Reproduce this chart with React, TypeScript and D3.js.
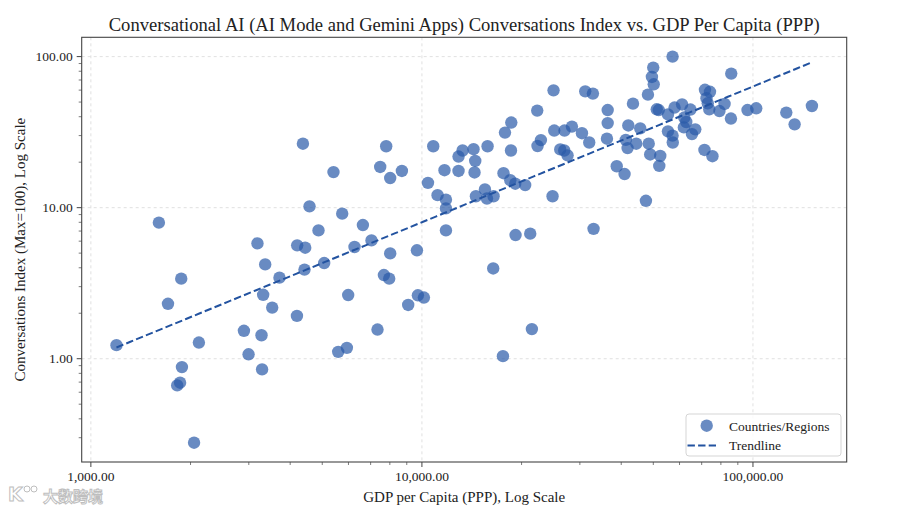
import * as d3 from "d3";

// GDP per capita (PPP) and conversations index
const gdpPerCapita = [
  1195, 1605, 1710, 1875, 2120, 1884, 1860, 1823, 2050, 2900,
  2995, 3277, 3290, 3362, 3315, 3530, 3713, 4193, 3186, 4200,
  4371, 4576, 5406, 5744, 4871, 4441, 6633, 6258, 7041, 7800,
  7482, 8020, 8700, 9660, 8020, 10820, 10430, 11150, 11820, 11820,
  11820, 11700, 12900, 13270, 14320, 14490, 12900, 14420, 15790, 14560,
  15500, 15720, 16460, 17640, 18490, 19140, 20510, 24810, 19180, 21240,
  18580, 17820, 18620, 22300, 24980, 22350, 22880, 25100, 26960, 28390,
  30440, 26170, 26910, 27540, 31140, 32850, 4419, 5068, 7677, 7965,
  5988, 9725, 10140, 9090, 7343, 5586, 5934, 16420, 21490, 17570,
  57170, 49970, 49520, 50150, 48170, 43410, 36410, 36410, 42020, 45650,
  36220, 32020, 41290, 41810, 44410, 48430, 48930, 52480, 52120, 38770,
  40940, 47500, 33000, 51220, 51940, 55370, 57970, 61080, 64750, 62010,
  62880, 61840, 66950, 65430, 55370, 57170, 57250, 71370, 75450, 71610,
  74160, 72380, 73030, 73790, 79210, 82070, 85800, 85980, 96280, 102300,
  126100, 133600, 150700,
];

const conversationsIndex = [
  1.23, 7.96, 2.31, 3.39, 1.28, 0.88, 0.694, 0.666, 0.278, 1.53,
  1.07, 1.43, 0.85, 4.21, 2.65, 2.18, 3.44, 1.92, 5.8, 5.63,
  26.5, 10.2, 17.2, 9.13, 7.07, 5.43, 7.67, 5.49, 6.07, 25.5,
  18.6, 15.7, 17.5, 5.22, 4.98, 25.5, 14.6, 12.1, 11.3, 9.89,
  7.07, 17.7, 21.8, 23.9, 24.4, 20.4, 17.5, 17.1, 25.5, 11.9,
  13.2, 11.5, 11.9, 16.9, 15.2, 14.4, 14.1, 11.9, 6.59, 6.73,
  23.9, 31.4, 36.6, 43.9, 59.8, 25.6, 28.0, 32.4, 32.4, 34.4,
  31.1, 24.3, 23.9, 22.2, 58.9, 56.9, 3.89, 4.3, 3.58, 3.39,
  2.64, 2.63, 2.54, 2.27, 1.56, 1.11, 1.18, 3.96, 1.57, 1.04,
  100, 84.6, 73.3, 65.6, 56.0, 48.8, 44.3, 36.3, 35.0, 33.5,
  28.6, 27.0, 28.1, 24.8, 26.5, 26.5, 22.5, 22.0, 18.9, 18.8,
  16.7, 11.1, 7.24, 44.8, 44.3, 41.4, 46.0, 48.2, 44.6, 39.5,
  36.9, 34.0, 33.0, 30.7, 32.0, 30.0, 27.0, 24.1, 21.9, 60.3,
  58.5, 53.1, 49.1, 44.8, 43.6, 48.6, 38.9, 77.2, 44.3, 45.5,
  42.6, 35.6, 47.1,
];

const xTickValues = [1000, 10000, 100000];
const yTickValues = [1, 10, 100];
const legendLabels = ["Countries/Regions", "Trendline"];

const W = 900;
const H = 508;
const plot = { left: 81.7, right: 846.7, top: 37.3, bottom: 462 };
const SERIF = "'Liberation Serif', 'Times New Roman', serif";
const POINT = "#2a5aa8";
const LINE = "#2353a0";

// matplotlib style 5% padding in log space
function logDomain(vals: number[]): [number, number] {
  const logs = vals.map(Math.log10);
  const lo = d3.min(logs)!;
  const hi = d3.max(logs)!;
  const pad = (hi - lo) * 0.05;
  return [10 ** (lo - pad), 10 ** (hi + pad)];
}

function minorTicks(domain: [number, number]): number[] {
  const out: number[] = [];
  for (let e = -2; e <= 6; e++) {
    for (let k = 2; k <= 9; k++) {
      const v = k * 10 ** e;
      if (v >= domain[0] && v <= domain[1]) out.push(v);
    }
  }
  return out;
}

export default function App() {
  const xDom = logDomain(gdpPerCapita);
  const yDom = logDomain(conversationsIndex);
  const x = d3.scaleLog().domain(xDom).range([plot.left, plot.right]);
  const y = d3.scaleLog().domain(yDom).range([plot.bottom, plot.top]);
  const fmt = d3.format(",.2f");

  // least squares in log-log space
  const lx = gdpPerCapita.map(Math.log10);
  const ly = conversationsIndex.map(Math.log10);
  const mx = d3.mean(lx)!;
  const my = d3.mean(ly)!;
  const slope =
    d3.sum(lx, (v, i) => (v - mx) * (ly[i] - my)) / d3.sum(lx, (v) => (v - mx) ** 2);
  const icpt = my - slope * mx;
  const xMin = d3.min(gdpPerCapita)!;
  const xMax = d3.max(gdpPerCapita)!;
  const trend = d3.range(0, 51).map((i) => {
    const g = 10 ** (Math.log10(xMin) + (i / 50) * (Math.log10(xMax) - Math.log10(xMin)));
    return [g, 10 ** (icpt + slope * Math.log10(g))] as [number, number];
  });
  const line = d3.line<[number, number]>().x((d) => x(d[0])).y((d) => y(d[1]));

  const cx = (plot.left + plot.right) / 2;
  const cy = (plot.top + plot.bottom) / 2;

  return (
    <svg
      width={W}
      height={H}
      style={{ position: "absolute", left: 0, top: 0, background: "#fff" }}
      fontFamily={SERIF}
    >
      <rect width={W} height={H} fill="#fff" />

      {/* grid */}
      {xTickValues.map((t) => (
        <line key={"gx" + t} x1={x(t)} x2={x(t)} y1={plot.top} y2={plot.bottom}
          stroke="#d9d9d9" strokeWidth={0.8} strokeDasharray="3,3" />
      ))}
      {yTickValues.map((t) => (
        <line key={"gy" + t} x1={plot.left} x2={plot.right} y1={y(t)} y2={y(t)}
          stroke="#d9d9d9" strokeWidth={0.8} strokeDasharray="3,3" />
      ))}

      {/* points */}
      {gdpPerCapita.map((g, i) => (
        <circle key={i} cx={x(g)} cy={y(conversationsIndex[i])} r={6.2}
          fill={POINT} fillOpacity={0.7} />
      ))}

      {/* trendline */}
      <path d={line(trend)!} fill="none" stroke={LINE} strokeWidth={2}
        strokeDasharray="7.4,3.2" />

      {/* frame */}
      <rect x={plot.left} y={plot.top} width={plot.right - plot.left}
        height={plot.bottom - plot.top} fill="none" stroke="#444" strokeWidth={1.1} />

      {/* x ticks */}
      {xTickValues.map((t) => (
        <g key={"xt" + t}>
          <line x1={x(t)} x2={x(t)} y1={plot.bottom} y2={plot.bottom + 5} stroke="#444" />
          <text x={x(t)} y={plot.bottom + 19} textAnchor="middle" fontSize={13.5} fill="#222">
            {fmt(t)}
          </text>
        </g>
      ))}
      {minorTicks(xDom).map((t) => (
        <line key={"xm" + t} x1={x(t)} x2={x(t)} y1={plot.bottom} y2={plot.bottom + 3}
          stroke="#444" strokeWidth={0.7} />
      ))}

      {/* y ticks */}
      {yTickValues.map((t) => (
        <g key={"yt" + t}>
          <line x1={plot.left - 5} x2={plot.left} y1={y(t)} y2={y(t)} stroke="#444" />
          <text x={plot.left - 9} y={y(t) + 4.5} textAnchor="end" fontSize={13.5} fill="#222">
            {fmt(t)}
          </text>
        </g>
      ))}
      {minorTicks(yDom).map((t) => (
        <line key={"ym" + t} x1={plot.left - 3} x2={plot.left} y1={y(t)} y2={y(t)}
          stroke="#444" strokeWidth={0.7} />
      ))}

      {/* titles */}
      <text x={cx} y={31} textAnchor="middle" fontSize={18.6} fill="#222">
        Conversational AI (AI Mode and Gemini Apps) Conversations Index vs. GDP Per Capita (PPP)
      </text>
      <text x={cx} y={502} textAnchor="middle" fontSize={15} fill="#222">
        GDP per Capita (PPP), Log Scale
      </text>
      <text transform={`translate(25,${cy}) rotate(-90)`} textAnchor="middle" fontSize={15} fill="#222">
        Conversations Index (Max=100), Log Scale
      </text>

      {/* legend */}
      <g>
        <rect x={686} y={414} width={155} height={42} rx={3} fill="#fff" fillOpacity={0.8}
          stroke="#d5d5d5" />
        <circle cx={706.7} cy={425.7} r={6.2} fill={POINT} fillOpacity={0.7} />
        <text x={729} y={430.5} fontSize={13.5} fill="#222">{legendLabels[0]}</text>
        <line x1={687.5} x2={716} y1={445.5} y2={445.5} stroke={LINE} strokeWidth={2}
          strokeDasharray="7.4,3.2" />
        <text x={729} y={450} fontSize={13.5} fill="#222">{legendLabels[1]}</text>
      </g>

      {/* watermark */}
      <g opacity={0.9}>
        <text x={8} y={501} fontSize={19} fontFamily="'DejaVu Sans', sans-serif" fontWeight="bold"
          fill="#fff" stroke="#b8b8b8" strokeWidth={1}>K</text>
        <circle cx={27} cy={489} r={3} fill="#fff" stroke="#b8b8b8" strokeWidth={1} />
        <circle cx={34} cy={489} r={3} fill="#fff" stroke="#b8b8b8" strokeWidth={1} />
        <text x={43} y={502} fontSize={15} fontFamily="'Noto Sans CJK SC', sans-serif"
          fontWeight="bold" fill="#fff" stroke="#b8b8b8" strokeWidth={1}>大数跨境</text>
      </g>
    </svg>
  );
}
